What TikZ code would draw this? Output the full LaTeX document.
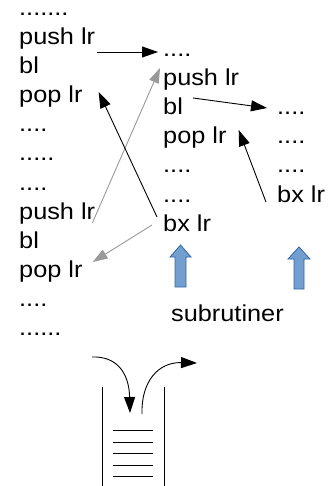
\documentclass[tikz,border=0pt]{standalone}
\usepackage{fontspec}
\setmainfont{Liberation Sans}[FakeStretch=1.1]
\usetikzlibrary{arrows.meta}
\definecolor{boxblue}{HTML}{729FCF}
\definecolor{boxedge}{HTML}{3465A4}
\definecolor{lightarrow}{HTML}{999999}
\begin{document}
\begin{tikzpicture}[x=1pt,y=-1pt,
  txt/.style={anchor=base west,inner sep=0pt,font=\fontsize{23}{29}\selectfont},
  blk/.style={line width=0.9pt,-{Triangle[length=16pt,width=11pt]}},
  gry/.style={line width=0.9pt,draw=lightarrow,-{Triangle[length=15pt,width=10pt]},lightarrow},
  upblock/.style={fill=boxblue,draw=boxedge,line width=0.8pt},
  stackline/.style={line width=0.9pt}]
\useasboundingbox (0,0) rectangle (330,486);
% left column
\node[txt,text height=4pt] (L0) at (19,16) {.......};
\node[txt] (L1) at (19,45) {push lr};
\node[txt] (L2) at (19,74) {bl};
\node[txt] (L3) at (19,103) {pop lr};
\node[txt] (L4) at (19,132) {....};
\node[txt] (L5) at (19,161) {.....};
\node[txt] (L6) at (19,190) {....};
\node[txt] (L7) at (19,219) {push lr};
\node[txt] (L8) at (19,248) {bl};
\node[txt] (L9) at (19,277) {pop lr};
\node[txt] (L10) at (19,306) {....};
\node[txt] (L11) at (19,335) {......};
% middle column
\node[txt] (M0) at (163,57) {....};
\node[txt] (M1) at (163,86) {push lr};
\node[txt] (M2) at (163,115) {bl};
\node[txt] (M3) at (163,144) {pop lr};
\node[txt] (M4) at (163,173) {....};
\node[txt] (M5) at (163,202) {....};
\node[txt] (M6) at (163,231) {bx lr};
% right column
\node[txt] (R0) at (277,115) {....};
\node[txt] (R1) at (277,144) {....};
\node[txt] (R2) at (277,173) {....};
\node[txt] (R3) at (277,202) {bx lr};
% connectors
\draw[blk] ([shift={(2,7)}]L1.base east) -- ([shift={(-5,-5)}]M0.base west);
\draw[gry] ([shift={(-3,4)}]L7.base east) -- ([shift={(-3,11)}]M0.base west);
\draw[blk] ([shift={(-6,-14)}]M6.base west) -- ([shift={(16,-11)}]L3.base east);
\draw[gry] ([shift={(-11,-6)}]M6.base west) -- ([shift={(10,-15)}]L9.base east);
\draw[blk] ([shift={(10,-17)}]M2.base east) -- ([shift={(-10,-7)}]R0.base west);
\draw[blk] ([shift={(-11,0)}]R3.base west) -- ([shift={(12,-14)}]M3.base east);
% blue up arrows
\draw[upblock] (175,287) -- (175,257) -- (170,257) -- (180.5,245) -- (191,257) -- (186,257) -- (186,287) -- cycle;
\draw[upblock] (294,289) -- (294,259) -- (288,259) -- (299,247) -- (310,259) -- (304,259) -- (304,289) -- cycle;
\node[txt] (sub) at (171,321) {subrutiner};
% stack
\draw[stackline] (102,387) -- (102,486);
\draw[stackline] (164,387) -- (164,486);
\foreach \y in {430,442,453,465,476}
  \draw[stackline] (113,\y) -- (153,\y);
\draw[blk] (92,357) .. controls (116,356) and (129,372) .. (130,413);
\draw[blk] (142,414) .. controls (141,382) and (158,362) .. (197,363);
\end{tikzpicture}
\end{document}
